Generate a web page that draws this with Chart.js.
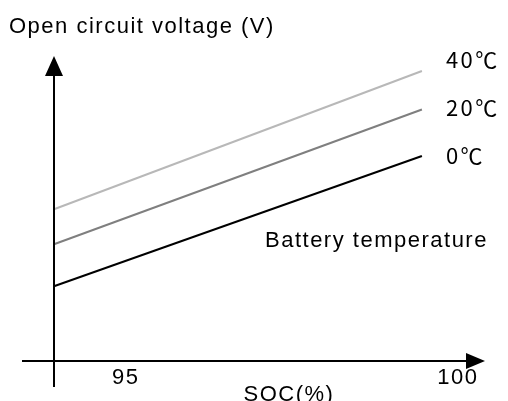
<!DOCTYPE html>
<html>
<head>
  <meta charset="UTF-8" />
  <title>Open circuit voltage vs SOC</title>
  <style>
    html, body { margin: 0; padding: 0; background: #fff; overflow: hidden; }
    #wrap { width: 508px; height: 401px; overflow: hidden; }
  </style>
  <script src="https://cdn.jsdelivr.net/npm/chart.js"></script>
</head>
<body>
  <div id="wrap"><canvas id="ocvChart" width="508" height="401"></canvas></div>
  <script>
    // values (voltage axis has no scale, so arbitrary units)
    const temps = ["0℃", "20℃", "40℃"];
    const socPoints = [93.93, 99.46];
    const ocv0 = [0.75, 2.05];
    const ocv20 = [1.17, 2.515];
    const ocv40 = [1.52, 2.90];
    const socTicks = [95, 100];

    const lineColors = ["#000000", "#7f7f7f", "#b8b8b8"];
    const labelDy = [0, -2, -11];
    const FONT = "'Liberation Sans', 'Noto Sans CJK JP', sans-serif";
    const CJK = "'Noto Sans CJK JP', 'Liberation Sans', sans-serif";

    const series = [ocv0, ocv20, ocv40];
    const datasets = temps.map((t, i) => ({
      label: t,
      data: socPoints.map((s, j) => ({ x: s, y: series[i][j] })),
      borderColor: lineColors[i],
      borderWidth: 2,
      pointRadius: 0,
      tension: 0
    }));

    const sketch = {
      id: "sketch",
      beforeDraw(chart) { chart.ctx.letterSpacing = "1.5px"; },
      afterDatasetsDraw(chart) {
        const ctx = chart.ctx, a = chart.chartArea;
        ctx.save();
        ctx.strokeStyle = "#000";
        ctx.fillStyle = "#000";
        ctx.lineWidth = 2;
        // axes, running a little past the origin like the drawing
        ctx.beginPath();
        ctx.moveTo(a.left, a.top + 18);
        ctx.lineTo(a.left, a.bottom + 26);
        ctx.moveTo(a.left - 32, a.bottom);
        ctx.lineTo(a.right - 18, a.bottom);
        ctx.stroke();
        // arrow heads
        ctx.beginPath();
        ctx.moveTo(a.left, a.top);
        ctx.lineTo(a.left - 9, a.top + 20);
        ctx.lineTo(a.left + 9, a.top + 20);
        ctx.closePath();
        ctx.moveTo(a.right, a.bottom);
        ctx.lineTo(a.right - 19, a.bottom - 8);
        ctx.lineTo(a.right - 19, a.bottom + 8);
        ctx.closePath();
        ctx.fill();

        ctx.textBaseline = "middle";
        ctx.textAlign = "left";
        ctx.font = "22px " + CJK;
        ctx.letterSpacing = "2.5px";
        chart.data.datasets.forEach((ds, i) => {
          const pts = chart.getDatasetMeta(i).data;
          const end = pts[pts.length - 1];
          ctx.fillText(ds.label, end.x + 24, end.y + labelDy[i]);
        });
        ctx.letterSpacing = "1.5px";
        ctx.font = "22px " + FONT;
        ctx.fillText("Battery temperature", 265, 241);
        ctx.textAlign = "center";
        ctx.fillText("SOC(%)", 289, 395);
        ctx.restore();
      },
      afterDraw(chart) { chart.ctx.letterSpacing = "0px"; }
    };

    new Chart(document.getElementById("ocvChart"), {
      type: "line",
      data: { datasets },
      options: {
        responsive: false,
        animation: false,
        devicePixelRatio: 1,
        layout: { padding: { left: 9, right: 23, top: 0, bottom: 5.6 } },
        plugins: {
          legend: { display: false },
          tooltip: { enabled: false },
          title: {
            display: true,
            text: "Open circuit voltage (V)",
            align: "start",
            color: "#000",
            font: { family: FONT, size: 22, weight: "normal" },
            padding: { top: 14, bottom: 15.6 }
          }
        },
        scales: {
          x: {
            type: "linear",
            min: 93.92,
            max: 100.41,
            grid: { display: false, drawTicks: false },
            border: { display: false },
            afterBuildTicks: s => { s.ticks = socTicks.map(v => ({ value: v })); },
            ticks: {
              autoSkip: false,
              maxRotation: 0,
              padding: 4,
              color: "#000",
              font: { family: FONT, size: 22 },
              callback: v => String(v)
            }
          },
          y: {
            min: 0,
            max: 3.05,
            grid: { display: false, drawTicks: false },
            border: { display: false },
            ticks: { display: false },
            afterFit: s => { s.width = 45; }
          }
        }
      },
      plugins: [sketch]
    });
  </script>
</body>
</html>
